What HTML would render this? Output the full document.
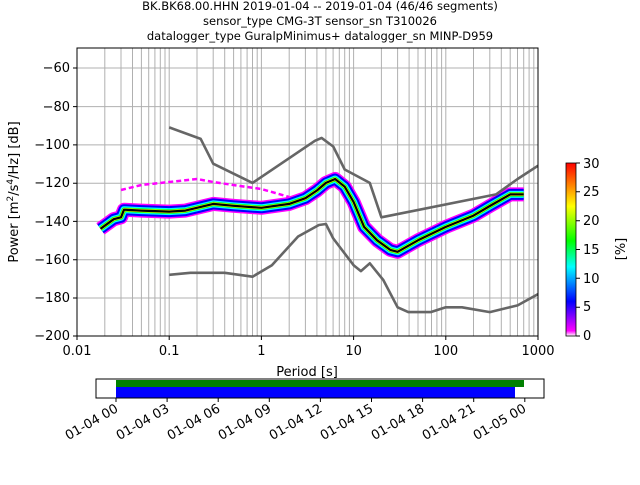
<!DOCTYPE html>
<html><head><meta charset="utf-8"><style>
body{margin:0;background:#fff;width:640px;height:480px;overflow:hidden}
text{font-family:"DejaVu Sans","Liberation Sans",sans-serif;fill:#000}
</style></head><body>
<svg width="640" height="480" xmlns="http://www.w3.org/2000/svg">
<defs>
<clipPath id="c"><rect x="77" y="48" width="461" height="288"/></clipPath>
<linearGradient id="cb" x1="0" y1="1" x2="0" y2="0">
<stop offset="0" stop-color="#fff"/><stop offset="0.03" stop-color="#f0f"/>
<stop offset="0.2" stop-color="#00f"/><stop offset="0.4" stop-color="#0ff"/>
<stop offset="0.55" stop-color="#0f0"/><stop offset="0.75" stop-color="#ff0"/>
<stop offset="1" stop-color="#f00"/></linearGradient>
</defs>
<g font-size="11.5" text-anchor="middle">
<text x="320" y="10">BK.BK68.00.HHN   2019-01-04 -- 2019-01-04  (46/46 segments)</text>
<text x="320" y="25">sensor_type CMG-3T sensor_sn T310026</text>
<text x="320" y="40">datalogger_type GuralpMinimus+ datalogger_sn MINP-D959</text>
</g>
<g stroke="#b0b0b0" stroke-width="1" id="grid">
<path d="M77 68H538M77 106.6H538M77 144.9H538M77 183.2H538M77 221.4H538M77 259.7H538M77 298H538"/>
<path d="M104.8 48V336M121 48V336M132.5 48V336M141.4 48V336M148.7 48V336M154.9 48V336M160.3 48V336M165 48V336M169.2 48V336
M197 48V336M213.2 48V336M224.7 48V336M233.6 48V336M240.9 48V336M247.1 48V336M252.5 48V336M257.2 48V336M261.4 48V336
M289.2 48V336M305.4 48V336M316.9 48V336M325.9 48V336M333.1 48V336M339.3 48V336M344.7 48V336M349.4 48V336M353.6 48V336
M381.4 48V336M397.6 48V336M409.1 48V336M418 48V336M425.3 48V336M431.5 48V336M436.9 48V336M441.6 48V336M445.8 48V336
M473.5 48V336M489.8 48V336M501.3 48V336M510.2 48V336M517.5 48V336M523.7 48V336M529.1 48V336M533.8 48V336"/>
</g>
<g clip-path="url(#c)" fill="none" stroke-linejoin="round" stroke-linecap="butt">
<path d="M121 190L141.4 185L169.2 182L197 179L213.2 182L240 186L261.4 189L289.2 197" stroke="#f0f" stroke-width="2.5" stroke-dasharray="5 3"/>
<g id="m">
<path d="M100.5 228.8L113.7 219.2L121 217.3L124 209.7L141.4 210.6L169.2 211.6L185.4 210.6L213.2 203.9L233.6 205.8L261.4 207.8L289.2 203.9L305.4 198.2L316.9 190.5L325.9 182.9L335.1 179L344.7 186.7L353.6 202L364.1 226.9L377.1 240.3L390.3 249.9L397.6 251.8L418 240.3L445.8 226.9L473.5 215.6L489.8 206L510.2 194.4L523.7 194.4"/>
</g>
<use href="#m" stroke="#f0f" stroke-width="14"/>
<use href="#m" stroke="#00f" stroke-width="11"/>
<use href="#m" stroke="#0ff" stroke-width="7"/>
<use href="#m" stroke="#0f0" stroke-width="4.5"/>
<use href="#m" stroke="#ff0" stroke-width="3.2"/>
<use href="#m" stroke="#000" stroke-width="2.2"/>
<path d="M169.2 127.4L200.7 138.9L213.2 163.7L252.5 182.9L314.9 140.8L321.6 137.9L333.2 146.5L344.7 169.5L369.8 182.9L381.4 217.3L496 194.4L517.6 179L538 165.7" stroke="#666" stroke-width="2.6"/>
<path d="M169.2 274.8L190.4 272.8L224.7 272.8L252.5 276.7L271.9 265.2L298.1 236.5L318.9 225L325.9 224L333.2 238.4L353.6 265.2L360.9 271.1L369.8 263.3L383.3 280L397.6 307.3L408.3 312.1L430.7 312.1L445.8 307.3L462 307.3L489.8 312.1L517.6 305.4L538 294.1" stroke="#666" stroke-width="2.6"/>
</g>
<rect x="77" y="48" width="461" height="288" fill="none" stroke="#000" stroke-width="1"/>
<g stroke="#000"><path d="M77 68h-4M77 106.6h-4M77 144.9h-4M77 183.2h-4M77 221.4h-4M77 259.7h-4M77 298h-4M77 336h-4M77 336v4M169.2 336v4M261.4 336v4M353.6 336v4M445.8 336v4M538 336v4"/></g>
<g font-size="13" text-anchor="end">
<text x="70" y="72">−60</text><text x="70" y="111">−80</text><text x="70" y="149">−100</text><text x="70" y="187">−120</text><text x="70" y="226">−140</text><text x="70" y="264">−160</text><text x="70" y="302">−180</text><text x="70" y="340">−200</text>
</g>
<g font-size="13" text-anchor="middle">
<text x="77" y="355">0.01</text><text x="169.2" y="355">0.1</text><text x="261.4" y="355">1</text><text x="353.6" y="355">10</text><text x="445.8" y="355">100</text><text x="538" y="355">1000</text>
<text x="307" y="376">Period [s]</text>
<text transform="translate(18 192) rotate(-90)">Power [m<tspan font-size="9" dy="-5">2</tspan><tspan dy="5">/s</tspan><tspan font-size="9" dy="-5">4</tspan><tspan dy="5">/Hz] [dB]</tspan></text>
</g>
<rect x="566" y="163" width="10" height="173" fill="url(#cb)" stroke="#000" stroke-width="0.8"/>
<g stroke="#000"><path d="M576 163h4M576 191.8h4M576 220.7h4M576 249.5h4M576 278.3h4M576 307.2h4M576 336h4"/></g>
<g font-size="13"><text x="583" y="168">30</text><text x="583" y="196">25</text><text x="583" y="225">20</text><text x="583" y="254">15</text><text x="583" y="283">10</text><text x="583" y="311">5</text><text x="583" y="340">0</text>
<text transform="translate(625 249) rotate(-90)" text-anchor="middle">[%]</text></g>
<rect x="116" y="380" width="408" height="7" fill="#008000"/>
<rect x="116" y="387" width="399" height="11" fill="#00f"/>
<rect x="96" y="379" width="448" height="19" fill="none" stroke="#000"/>
<g stroke="#000"><path d="M116 398v4M167.1 398v4M218.2 398v4M269.3 398v4M320.4 398v4M371.5 398v4M422.6 398v4M473.7 398v4M524.8 398v4"/></g>
<g font-size="13" text-anchor="end">
<text transform="translate(119 411) rotate(-30)">01-04 00</text>
<text transform="translate(170 411) rotate(-30)">01-04 03</text>
<text transform="translate(221 411) rotate(-30)">01-04 06</text>
<text transform="translate(272 411) rotate(-30)">01-04 09</text>
<text transform="translate(323 411) rotate(-30)">01-04 12</text>
<text transform="translate(374 411) rotate(-30)">01-04 15</text>
<text transform="translate(425 411) rotate(-30)">01-04 18</text>
<text transform="translate(476 411) rotate(-30)">01-04 21</text>
<text transform="translate(527 411) rotate(-30)">01-05 00</text>
</g>
</svg>
</body></html>
